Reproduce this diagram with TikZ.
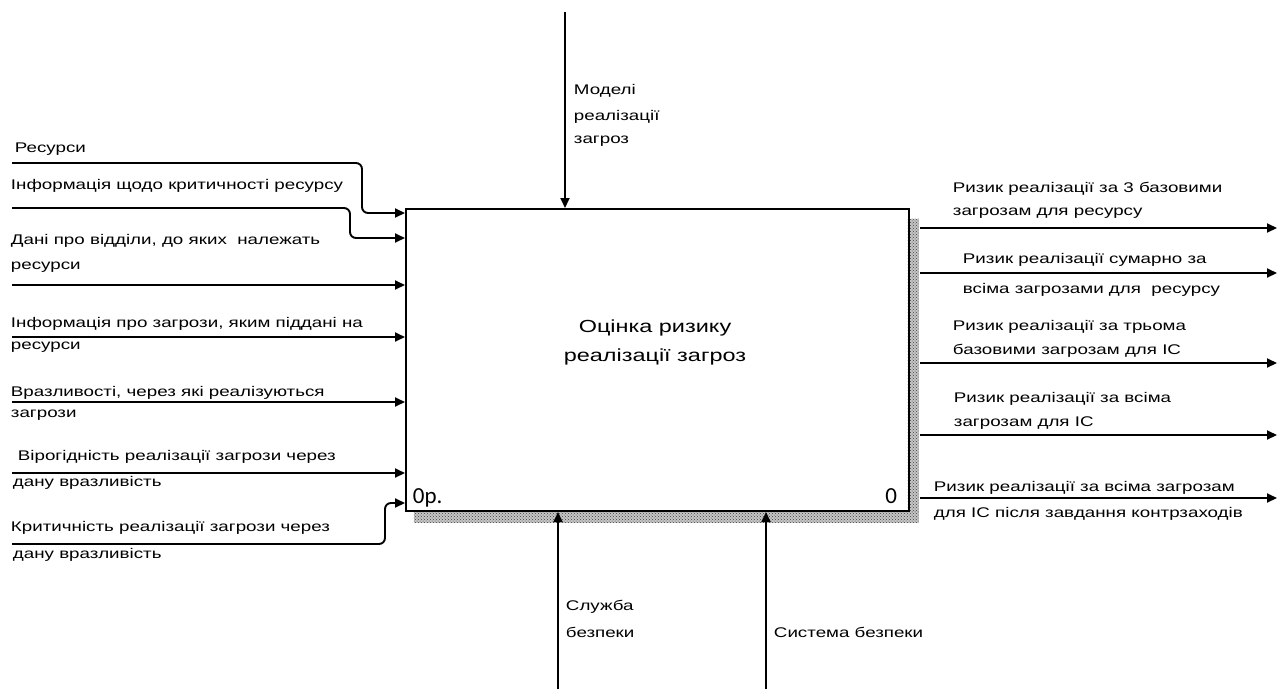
\documentclass[tikz,border=0pt]{standalone}
\usepackage{fontspec}
\setmainfont{Liberation Sans}[FakeStretch=1.34]
\newfontfamily\numfont{Carlito}
\usetikzlibrary{arrows.meta,patterns}
\begin{document}
\begin{tikzpicture}[x=1pt,y=-1pt,
  line width=1.9pt,
  arr/.style={-{Triangle[length=10pt,width=9pt]}},
  lbl/.style={anchor=west,inner sep=0pt,font=\fontsize{14}{15}\selectfont},
  hatch/.style={inner sep=0pt,draw=none,preaction={fill=gray!45},pattern=crosshatch dots,pattern color=black!75},
  roundbend/.style={rounded corners=6pt}]
\useasboundingbox[fill=white] (0,0) rectangle (1279,689);
% main box
\node[hatch,minimum width=11pt,minimum height=303pt,anchor=north west] (hr) at (907,218) {};
\node[hatch,minimum width=505pt,minimum height=11pt,anchor=north west] (hb) at (413,511) {};
\node[draw,line width=2pt,minimum width=503pt,minimum height=302pt,anchor=north west,inner sep=0pt] (box) at (405,208) {};
\node[align=center,font=\fontsize{17.5}{29}\selectfont] (title) at (655,342) {Оцінка ризику\\реалізації загроз};
\node[anchor=base west,inner sep=0pt,font=\numfont\fontsize{23}{23}\selectfont] (num1) at (412,503) {0р.};
\node[anchor=base east,inner sep=0pt,font=\numfont\fontsize{23}{23}\selectfont] (num2) at (898,503) {0};
% inputs
\coordinate (i1) at (12,163); \coordinate (b1) at (362,213);
\coordinate (i2) at (12,208); \coordinate (b2) at (350,238);
\coordinate (i3) at (12,285);
\coordinate (i4) at (12,337);
\coordinate (i5) at (12,402);
\coordinate (i6) at (12,473);
\coordinate (i7) at (12,544); \coordinate (b7) at (385,503);
\draw[arr,roundbend] (i1) -| (b1) -- (box.west |- b1);
\draw[arr,roundbend] (i2) -| (b2) -- (box.west |- b2);
\draw[arr] (i3) -- (box.west |- i3);
\draw[arr] (i4) -- (box.west |- i4);
\draw[arr] (i5) -- (box.west |- i5);
\draw[arr] (i6) -- (box.west |- i6);
\draw[arr,roundbend] (i7) -| (b7) -- (box.west |- b7);
\node[lbl] (l1) at (14,149) {Ресурси};
\node[lbl] (l2) at (10,186) {Інформація щодо критичності ресурсу};
\node[lbl] (l3a) at (10,241) {Дані про відділи, до яких \ належать};
\node[lbl] (l3b) at (10,267) {ресурси};
\node[lbl] (l4a) at (10,324) {Інформація про загрози, яким піддані на};
\node[lbl] (l4b) at (10,347) {ресурси};
\node[lbl] (l5a) at (10,393) {Вразливості, через які реалізуються};
\node[lbl] (l5b) at (10,415) {загрози};
\node[lbl] (l6a) at (17,457) {Вірогідність реалізації загрози через};
\node[lbl] (l6b) at (12,483) {дану вразливість};
\node[lbl] (l7a) at (10,528) {Критичність реалізації загрози через};
\node[lbl] (l7b) at (12,555) {дану вразливість};
% control
\coordinate (c1) at (565,12);
\draw[arr] (c1) -- (box.north -| c1);
\node[lbl] (lc1) at (573,91) {Моделі};
\node[lbl] (lc2) at (573,117) {реалізації};
\node[lbl] (lc3) at (573,141) {загроз};
% mechanisms
\coordinate (m1) at (558,689);
\coordinate (m2) at (766,689);
\draw[arr] (m1) -- (box.south -| m1);
\draw[arr] (m2) -- (box.south -| m2);
\node[lbl] (lm1) at (565,607) {Служба};
\node[lbl] (lm2) at (565,632) {безпеки};
\node[lbl] (lm3) at (773,632) {Система безпеки};
% outputs
\coordinate (o1) at (1277,228);
\coordinate (o2) at (1277,273);
\coordinate (o3) at (1277,363);
\coordinate (o4) at (1277,435);
\coordinate (o5) at (1277,498);
\foreach \o in {o1,o2,o3,o4,o5} \draw[arr] (hr.east |- \o) -- (\o);
\node[lbl] (r1a) at (952,189) {Ризик реалізації за 3 базовими};
\node[lbl] (r1b) at (952,213) {загрозам для ресурсу};
\node[lbl] (r2a) at (962,260) {Ризик реалізації сумарно за};
\node[lbl] (r2b) at (962,290) {всіма загрозами для \ ресурсу};
\node[lbl] (r3a) at (952,327) {Ризик реалізації за трьома};
\node[lbl] (r3b) at (952,351) {базовими загрозам для ІС};
\node[lbl] (r4a) at (953,399) {Ризик реалізації за всіма};
\node[lbl] (r4b) at (953,423) {загрозам для ІС};
\node[lbl] (r5a) at (933,488) {Ризик реалізації за всіма загрозам};
\node[lbl] (r5b) at (933,514) {для ІС після завдання контрзаходів};
\end{tikzpicture}
\end{document}
